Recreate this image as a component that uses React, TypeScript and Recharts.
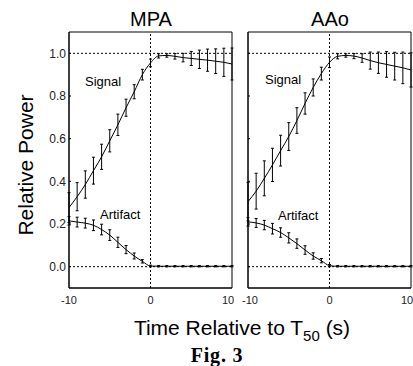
import React from 'react';
import {
	LineChart,
	Line,
	XAxis,
	YAxis,
	ErrorBar,
	ReferenceLine,
	ReferenceArea,
} from 'recharts';

// time relative to T50, seconds
const time = [-10, -9, -8, -7, -6, -5, -4, -3, -2, -1, 0, 1, 2, 3, 4, 5, 6, 7, 8, 9, 10];

const mpaSignal = [0.277, 0.328, 0.385, 0.45, 0.515, 0.59, 0.665, 0.745, 0.82, 0.9, 0.955, 0.988, 0.99, 0.986, 0.98, 0.976, 0.972, 0.968, 0.963, 0.958, 0.95];
const mpaSignalErr = [0.07, 0.066, 0.064, 0.063, 0.059, 0.052, 0.05, 0.04, 0.033, 0.025, 0.018, 0.01, 0.008, 0.013, 0.02, 0.033, 0.043, 0.052, 0.058, 0.066, 0.075];
const mpaArtifact = [0.215, 0.209, 0.204, 0.194, 0.174, 0.148, 0.114, 0.08, 0.05, 0.025, 0.003, 0.002, 0.002, 0.002, 0.002, 0.002, 0.002, 0.002, 0.002, 0.002, 0.002];
const mpaArtifactErr = [0.02, 0.023, 0.023, 0.025, 0.025, 0.025, 0.024, 0.019, 0.014, 0.008, 0.004, 0.003, 0.003, 0.003, 0.003, 0.003, 0.003, 0.003, 0.003, 0.003, 0.003];

const aaoSignal = [0.305, 0.354, 0.414, 0.477, 0.544, 0.61, 0.685, 0.765, 0.84, 0.905, 0.958, 0.986, 0.99, 0.987, 0.978, 0.966, 0.956, 0.948, 0.94, 0.932, 0.922];
const aaoSignalErr = [0.09, 0.084, 0.082, 0.078, 0.072, 0.065, 0.06, 0.05, 0.04, 0.03, 0.025, 0.012, 0.008, 0.012, 0.02, 0.04, 0.05, 0.06, 0.065, 0.074, 0.08];
const aaoArtifact = [0.21, 0.205, 0.195, 0.178, 0.16, 0.135, 0.108, 0.078, 0.05, 0.028, 0.005, 0.002, 0.002, 0.002, 0.002, 0.002, 0.002, 0.002, 0.002, 0.002, 0.002];
const aaoArtifactErr = [0.02, 0.021, 0.022, 0.025, 0.022, 0.024, 0.022, 0.02, 0.015, 0.01, 0.005, 0.003, 0.003, 0.003, 0.003, 0.003, 0.003, 0.003, 0.003, 0.003, 0.003];

const xTicks = [-10, 0, 10];
const yTicks = [0, 0.2, 0.4, 0.6, 0.8, 1.0];

const font = '"Liberation Sans", Arial, sans-serif';

const buildRows = (sig: number[], sigErr: number[], art: number[], artErr: number[]) =>
	time.map((t, i) => ({
		t,
		signal: sig[i],
		signalErr: sigErr[i],
		artifact: art[i],
		artifactErr: artErr[i],
	}));

// x tick label; end labels nudged apart like the original so they don't collide
const makeXTick = (firstShift: number, lastShift: number) => (p: any) => {
	const v = p.payload.value;
	const shift = v === 10 ? lastShift : v === -10 ? firstShift : 0;
	return (
		<text
			x={p.x + shift}
			y={p.y}
			dy='0.71em'
			textAnchor='middle'
			fontSize={11}
			fill='#222'
			fontFamily={font}
		>
			{v}
		</text>
	);
};

interface PanelProps {
	data: any[];
	left: number;
	width: number;
	axisWidth: number;
	marginRight: number;
	showYLabels: boolean;
	firstShift: number;
	lastShift: number;
}

const Panel = (props: PanelProps) => {
	const { data, left, width, axisWidth, marginRight, showYLabels, firstShift, lastShift } = props;
	return (
		<div style={{ position: 'absolute', left, top: 0 }}>
			<LineChart
				width={width}
				height={320}
				data={data}
				margin={{ top: 32, right: marginRight, left: 0, bottom: 0 }}
				style={{ overflow: 'visible' }}
			>
				<XAxis
					dataKey='t'
					type='number'
					domain={[-10, 10]}
					ticks={xTicks}
					allowDataOverflow
					height={32}
					tickLine={false}
					axisLine={{ stroke: '#000' }}
					tick={makeXTick(firstShift, lastShift)}
					interval={0}
				/>
				<YAxis
					type='number'
					domain={[-0.1, 1.1]}
					ticks={yTicks}
					allowDataOverflow
					width={axisWidth}
					tickSize={-2}
					tickMargin={5}
					tickLine={{ stroke: '#000' }}
					axisLine={{ stroke: '#000' }}
					tickFormatter={v => (showYLabels ? Number(v).toFixed(1) : '')}
					tick={{ fontSize: 12, fill: '#222', fontFamily: font }}
					interval={0}
				/>
				<ReferenceArea x1={-10} x2={10} y1={-0.1} y2={1.1} fill='none' stroke='#000' strokeWidth={1} />
				<ReferenceLine y={1} stroke='#000' strokeDasharray='2 2' />
				<ReferenceLine y={0} stroke='#000' strokeDasharray='2 2' />
				<ReferenceLine x={0} stroke='#000' strokeDasharray='2 2' />
				<Line
					type='monotone'
					dataKey='signal'
					stroke='#000'
					strokeWidth={1}
					dot={false}
					isAnimationActive={false}
				>
					<ErrorBar dataKey='signalErr' width={1.5} stroke='#000' strokeWidth={1} direction='y' />
				</Line>
				<Line
					type='monotone'
					dataKey='artifact'
					stroke='#000'
					strokeWidth={1}
					dot={false}
					isAnimationActive={false}
				>
					<ErrorBar dataKey='artifactErr' width={1.5} stroke='#000' strokeWidth={1} direction='y' />
				</Line>
			</LineChart>
		</div>
	);
};

export default function App() {
	const mpaRows = buildRows(mpaSignal, mpaSignalErr, mpaArtifact, mpaArtifactErr);
	const aaoRows = buildRows(aaoSignal, aaoSignalErr, aaoArtifact, aaoArtifactErr);

	return (
		<div style={{ position: 'absolute', left: 0, top: 0, width: 413, height: 366, overflow: 'hidden', background: '#fff' }}>
			<Panel data={mpaRows} left={0} width={240} axisWidth={69} marginRight={8} showYLabels firstShift={0} lastShift={-4} />
			<Panel data={aaoRows} left={240} width={173} axisWidth={8} marginRight={2} showYLabels={false} firstShift={2} lastShift={-4} />
			<svg width={413} height={366} style={{ position: 'absolute', left: 0, top: 0, pointerEvents: 'none' }}>
				<g fontFamily={font} fill='#000'>
					<text x={151} y={26} fontSize={20} textAnchor='middle'>MPA</text>
					<text x={330} y={26} fontSize={20} textAnchor='middle'>AAo</text>
					<text x={33} y={165} fontSize={21} textAnchor='middle' transform='rotate(-90 33 165)'>Relative Power</text>
					<text x={85} y={86} fontSize={13}>Signal</text>
					<text x={265} y={84} fontSize={13}>Signal</text>
					<text x={100} y={219} fontSize={13}>Artifact</text>
					<text x={278} y={220} fontSize={13}>Artifact</text>
					<text x={242} y={335} fontSize={21} textAnchor='middle'>
						Time Relative to T
						<tspan fontSize={15} dy={6}>50</tspan>
						<tspan dy={-6}> (s)</tspan>
					</text>
				</g>
				<text x={217} y={362} fontSize={20} letterSpacing={0.8} fontWeight='bold' textAnchor='middle' fontFamily='"Liberation Serif", "Times New Roman", serif'>Fig. 3</text>
			</svg>
		</div>
	);
}
